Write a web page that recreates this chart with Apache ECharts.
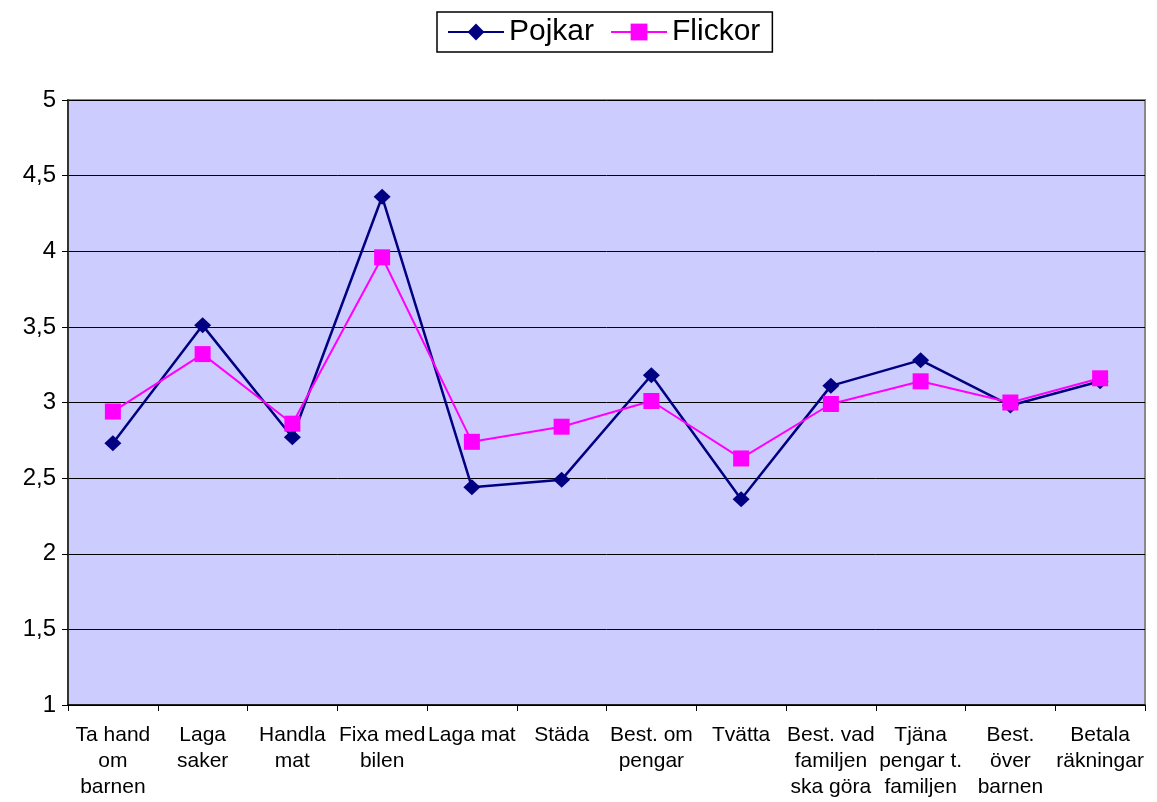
<!DOCTYPE html>
<html>
<head>
<meta charset="utf-8">
<script src="https://cdn.jsdelivr.net/npm/echarts@6/dist/echarts.min.js"></script>
<style>
    html, body { margin: 0; padding: 0; background: #fff; }
    #chart { width: 1157px; height: 802px; }
</style>
</head>
<body>
<div id="chart"></div>
<script>
// kategorier (radbrytningar som i originalet)
var categories = ['Ta hand\nom\nbarnen', 'Laga\nsaker', 'Handla\nmat', 'Fixa med\nbilen', 'Laga mat', 'Städa',
    'Best. om\npengar', 'Tvätta', 'Best. vad\nfamiljen\nska göra', 'Tjäna\npengar t.\nfamiljen', 'Best.\növer\nbarnen', 'Betala\nräkningar']
var pojkar = [2.73, 3.51, 2.77, 4.36, 2.44, 2.49, 3.18, 2.36, 3.11, 3.28, 2.98, 3.14]
var flickor = [2.94, 3.32, 2.86, 3.96, 2.74, 2.84, 3.01, 2.63, 2.99, 3.14, 3.00, 3.16]
var yTicks = [1, 1.5, 2, 2.5, 3, 3.5, 4, 4.5, 5]

var myChart = echarts.init(document.getElementById('chart'))
var font = 'Liberation Sans, Arial, sans-serif'

var option = {
    animation: false,
    textStyle: { fontFamily: font },
    legend: {
        top: 12,
        left: 437,
        data: ['Pojkar', 'Flickor'],
        itemWidth: 56,
        itemHeight: 21,
        itemGap: 16,
        padding: [5, 12, 5, 10],
        borderColor: '#000',
        borderWidth: 1.5,
        textStyle: { fontSize: 30, color: '#000', fontFamily: font }
    },
    grid: {
        left: 68,
        right: 12,
        top: 100,
        bottom: 97,
        show: true,
        backgroundColor: '#CCCCFF',
        borderColor: '#888',
        borderWidth: 2
    },
    xAxis: {
        type: 'category',
        data: categories,
        boundaryGap: true,
        axisLine: { lineStyle: { color: '#000', width: 1.5 } },
        axisTick: { show: true, length: 6, lineStyle: { color: '#000' } },
        axisLabel: {
            fontSize: 21,
            color: '#000',
            lineHeight: 26,
            margin: 17,
            interval: 0,
            fontFamily: font
        }
    },
    yAxis: {
        type: 'value',
        min: 1,
        max: 5,
        interval: 0.5,
        axisLine: { show: true, lineStyle: { color: '#333', width: 2 } },
        axisTick: { show: true, length: 6, lineStyle: { color: '#000' } },
        splitLine: { lineStyle: { color: '#000', width: 1 } },
        axisLabel: {
            fontSize: 24,
            color: '#000',
            margin: 12,
            fontFamily: font,
            formatter: function (v) {
                return yTicks.indexOf(v) >= 0 ? String(v).replace('.', ',') : ''
            }
        }
    },
    series: [
        {
            name: 'Pojkar',
            type: 'line',
            data: pojkar,
            symbol: 'diamond',
            symbolSize: [17, 16],
            itemStyle: { color: '#000080' },
            lineStyle: { color: '#000080', width: 2.5 }
        },
        {
            name: 'Flickor',
            type: 'line',
            data: flickor,
            symbol: 'rect',
            symbolSize: 16,
            itemStyle: { color: '#FF00FF' },
            lineStyle: { color: '#FF00FF', width: 2 }
        }
    ]
}
myChart.setOption(option)
</script>
</body>
</html>
